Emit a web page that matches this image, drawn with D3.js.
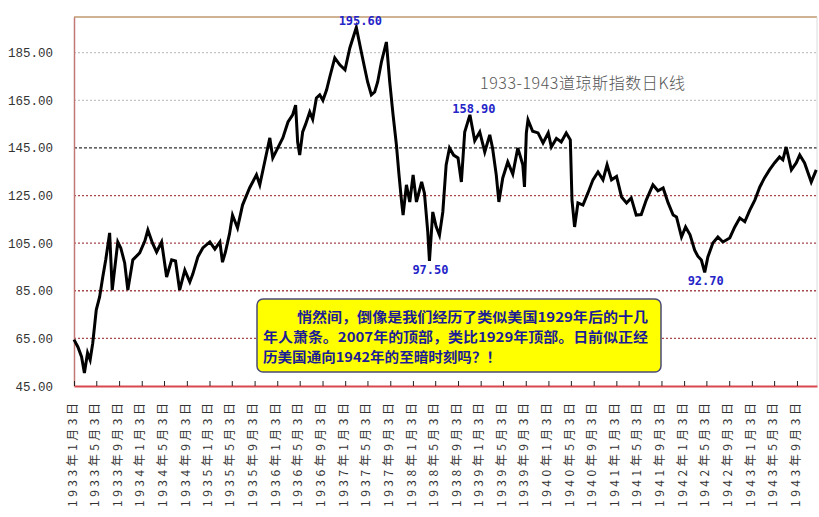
<!DOCTYPE html>
<html>
<head>
<meta charset="utf-8">
<script src="https://cdn.jsdelivr.net/npm/d3@7"></script>
<style>
  body { margin: 0; background: #fff; }
  svg { display: block; }
</style>
</head>
<body>
<svg id="svg_dow" width="819" height="517"></svg>
<script>
const dates = [
  '1933-01-03', '1933-01-24', '1933-02-13', '1933-02-28', '1933-03-17', '1933-03-31', '1933-04-14', '1933-05-03',
  '1933-05-21', '1933-06-07', '1933-06-23', '1933-07-14', '1933-07-28', '1933-08-27', '1933-09-12', '1933-10-03',
  '1933-10-20', '1933-11-16', '1933-12-23', '1934-01-20', '1934-02-05', '1934-03-02', '1934-03-24', '1934-04-20',
  '1934-05-17', '1934-06-13', '1934-07-04', '1934-07-26', '1934-08-23', '1934-09-19', '1934-10-05', '1934-11-01',
  '1934-11-28', '1935-01-05', '1935-02-01', '1935-02-28', '1935-03-14', '1935-03-30', '1935-04-21', '1935-05-07',
  '1935-06-03', '1935-06-30', '1935-08-07', '1935-09-13', '1935-10-01', '1935-10-27', '1935-11-24', '1935-12-10',
  '1936-01-06', '1936-02-02', '1936-03-01', '1936-03-26', '1936-04-11', '1936-04-22', '1936-05-03', '1936-05-19',
  '1936-06-04', '1936-06-26', '1936-07-12', '1936-08-01', '1936-08-19', '1936-09-05', '1936-09-25', '1936-10-12',
  '1936-11-08', '1936-12-05', '1937-01-02', '1937-01-28', '1937-03-04', '1937-03-31', '1937-04-18', '1937-05-04',
  '1937-05-24', '1937-06-11', '1937-06-27', '1937-07-17', '1937-08-13', '1937-08-31', '1937-09-18', '1937-10-06',
  '1937-10-20', '1937-11-03', '1937-11-11', '1937-11-29', '1937-12-17', '1938-01-04', '1938-01-22', '1938-02-19',
  '1938-03-06', '1938-03-24', '1938-04-02', '1938-04-20', '1938-05-08', '1938-05-26', '1938-06-13', '1938-07-01',
  '1938-07-19', '1938-08-10', '1938-09-03', '1938-09-21', '1938-10-09', '1938-11-06', '1938-12-02', '1938-12-29',
  '1939-01-25', '1939-02-21', '1939-03-08', '1939-03-28', '1939-04-11', '1939-05-02', '1939-05-29', '1939-06-25',
  '1939-07-22', '1939-08-18', '1939-08-27', '1939-09-06', '1939-09-15', '1939-10-10', '1939-11-08', '1939-12-05',
  '1940-01-02', '1940-01-19', '1940-02-15', '1940-03-12', '1940-04-08', '1940-04-30', '1940-05-09', '1940-05-23',
  '1940-06-10', '1940-07-07', '1940-08-03', '1940-08-30', '1940-09-26', '1940-10-23', '1940-11-14', '1940-12-08',
  '1941-01-04', '1941-01-31', '1941-02-27', '1941-03-24', '1941-04-20', '1941-05-17', '1941-06-13', '1941-07-19',
  '1941-08-15', '1941-09-12', '1941-10-09', '1941-11-05', '1941-11-23', '1941-12-20', '1942-01-11', '1942-02-04',
  '1942-03-01', '1942-03-18', '1942-04-06', '1942-04-24', '1942-05-11', '1942-06-07', '1942-07-04', '1942-07-31',
  '1942-09-06', '1942-10-03', '1942-10-30', '1942-11-26', '1942-12-23', '1943-01-19', '1943-02-15', '1943-03-12',
  '1943-04-08', '1943-05-05', '1943-06-01', '1943-06-19', '1943-07-07', '1943-08-04', '1943-08-30', '1943-09-18',
  '1943-10-14', '1943-11-19', '1943-12-16'
];

const closes = [
  64.5, 61.4, 57.2, 50.5, 58.9, 56, 63, 77,
  82.4, 90.8, 98, 109.3, 85.3, 105.5, 103, 96.7,
  85.3, 98, 100.9, 106, 110.5, 105, 101.3, 105.5,
  90.8, 98, 97.5, 85.3, 93.7, 88.7, 92, 99.2,
  103, 105.5, 102.5, 105.5, 97, 101.3, 109, 116.8,
  111.4, 121, 128.2, 133.7, 129.5, 139, 149.2, 140.8,
  145, 149.2, 155.9, 158.9, 163, 147.5, 142, 151.7,
  155, 160.1, 157, 166, 167.3, 165, 169.4, 174.8,
  182.8, 179.9, 177.8, 187, 195.6, 185.3, 178.6, 172.7,
  167.3, 168.5, 172.7, 181, 189.5, 172.7, 158.9, 146.3,
  133.7, 122.3, 116.8, 129.5, 122.3, 133.7, 122.3, 130.7,
  126, 109.7, 97.5, 118.1, 112, 108.4, 118.1, 137.9,
  145, 142, 140.8, 130.7, 151.7, 158.9, 148, 151.7,
  143.3, 150.5, 145, 133.7, 122.3, 132.4, 139.1, 134,
  145, 137.9, 128.6, 151.3, 156.8, 152, 151.3, 147.1,
  151.3, 145.4, 149, 147.5, 151.3, 148.4, 123.1, 111.8,
  121.9, 121, 126.1, 131.6, 134.9, 131.6, 137.9, 131.6,
  133, 124.4, 121.9, 124, 116.8, 117, 123.1, 129.5,
  127, 128.2, 121.9, 116.8, 116, 107.6, 111.8, 108.5,
  102.1, 99.5, 97.9, 92.7, 99.2, 105.1, 107.6, 105.5,
  107.2, 111.8, 115.6, 114, 118.9, 123.1, 128.6, 132.4,
  135.8, 138.7, 141.2, 140, 145.4, 135.8, 138.7, 142,
  138.7, 130.7, 135.8
];

const yTicks = [45, 65, 85, 105, 125, 145, 165, 185];

const xTickDates = [
  '1933-01-03', '1933-05-03', '1933-09-03', '1934-01-03', '1934-05-03', '1934-09-03',
  '1935-01-03', '1935-05-03', '1935-09-03', '1936-01-03', '1936-05-03', '1936-09-03',
  '1937-01-03', '1937-05-03', '1937-09-03', '1938-01-03', '1938-05-03', '1938-09-03',
  '1939-01-03', '1939-05-03', '1939-09-03', '1940-01-03', '1940-05-03', '1940-09-03',
  '1941-01-03', '1941-05-03', '1941-09-03', '1942-01-03', '1942-05-03', '1942-09-03',
  '1943-01-03', '1943-05-03', '1943-09-03'
];

const peakDates = ['1937-03-04', '1938-11-06'];
const troughDates = ['1938-04-02', '1942-04-24'];

const chartTitle = '1933-1943道琼斯指数日K线';
const noteLines = [
  '悄然间，倒像是我们经历了类似美国1929年后的十几',
  '年人萧条。2007年的顶部，类比1929年顶部。日前似正经',
  '历美国通向1942年的至暗时刻吗？！'
];

const parse = d3.timeParse('%Y-%m-%d');
const data = dates.map((d, i) => ({ date: parse(d), value: closes[i] }));

const plotLeft = 74;
const plotRight = 817;
const plotTop = 17;
const plotBottom = 386;

const xscale = d3.scaleTime()
  .domain([parse('1933-01-03'), parse('1943-12-20')])
  .range([plotLeft, plotRight]);

const yscale = d3.scaleLinear()
  .domain([45, 200])
  .range([plotBottom, plotTop]);

const svg = d3.select('#svg_dow');

// grid
const gridColor = (v) => (v >= 165 ? '#c4c4c4' : v === 145 ? '#333' : '#a8474a');
svg.append('g')
  .selectAll('line')
  .data(yTicks.filter((v) => v > 45))
  .enter()
  .append('line')
  .attr('x1', plotLeft)
  .attr('x2', plotRight)
  .attr('y1', (d) => yscale(d))
  .attr('y2', (d) => yscale(d))
  .attr('stroke', gridColor)
  .attr('stroke-width', 1.3)
  .attr('stroke-dasharray', (d) => (d === 145 ? '3,2' : '2,2'));

// frame
svg.append('line')
  .attr('x1', plotLeft).attr('x2', plotRight).attr('y1', plotTop).attr('y2', plotTop)
  .attr('stroke', '#c09a6e').attr('stroke-width', 1.5);
svg.append('line')
  .attr('x1', plotRight).attr('x2', plotRight).attr('y1', plotTop).attr('y2', plotBottom)
  .attr('stroke', '#dcdcdc').attr('stroke-width', 1);

const leftAxis = d3.axisLeft(yscale)
  .tickValues(yTicks)
  .tickFormat(d3.format('.2f'))
  .tickSize(0)
  .tickPadding(21);
const yAxis = svg.append('g')
  .attr('transform', `translate(${plotLeft}, 0)`)
  .call(leftAxis);
yAxis.select('.domain').attr('stroke', '#c27777').attr('stroke-width', 1.5);
yAxis.selectAll('text')
  .attr('font-family', 'Liberation Mono, monospace')
  .attr('font-size', 12.5)
  .attr('fill', '#333');

const fmt = d3.timeFormat('%Y年%-m月%-d日');
const bottomAxis = d3.axisBottom(xscale)
  .tickValues(xTickDates.map(parse))
  .tickFormat(fmt)
  .tickSize(-5)
  .tickSizeOuter(0);
const xAxis = svg.append('g')
  .attr('transform', `translate(0, ${plotBottom})`)
  .call(bottomAxis);
xAxis.select('.domain').attr('stroke', '#d9484f').attr('stroke-width', 2);
xAxis.selectAll('.tick line').attr('stroke', '#222').attr('stroke-width', 1);
xAxis.selectAll('.tick text')
  .attr('transform', 'rotate(-90)')
  .attr('text-anchor', 'end')
  .attr('x', -17)
  .attr('y', -2)
  .attr('dy', '0.35em')
  .attr('textLength', 104)
  .attr('lengthAdjust', 'spacing')
  .attr('font-family', 'Noto Sans CJK SC, sans-serif')
  .attr('font-size', 12)
  .attr('fill', '#333');

// index line
const line = d3.line()
  .x((d) => xscale(d.date))
  .y((d) => yscale(d.value));

svg.append('path')
  .datum(data)
  .attr('d', line)
  .attr('fill', 'none')
  .attr('stroke', '#000')
  .attr('stroke-width', 3)
  .attr('stroke-linejoin', 'miter');

// extreme labels
const lookup = (d) => data.find((p) => +p.date === +parse(d));
svg.append('g')
  .selectAll('text')
  .data(peakDates.map(lookup))
  .enter()
  .append('text')
  .text((d) => d.value.toFixed(2))
  .attr('x', (d) => xscale(d.date) + 4)
  .attr('y', (d) => yscale(d.value) - 2)
  .attr('text-anchor', 'middle')
  .attr('font-family', 'DejaVu Sans Mono, monospace')
  .attr('font-weight', 'bold')
  .attr('font-size', 12)
  .attr('fill', '#2424c8');

svg.append('g')
  .selectAll('text')
  .data(troughDates.map(lookup))
  .enter()
  .append('text')
  .text((d) => d.value.toFixed(2))
  .attr('x', (d) => xscale(d.date) + 1)
  .attr('y', (d) => yscale(d.value) + 13)
  .attr('text-anchor', 'middle')
  .attr('font-family', 'DejaVu Sans Mono, monospace')
  .attr('font-weight', 'bold')
  .attr('font-size', 12)
  .attr('fill', '#2424c8');

svg.append('text')
  .text(chartTitle)
  .attr('x', 480)
  .attr('y', 89)
  .attr('textLength', 205)
  .attr('font-family', 'Noto Sans CJK SC, sans-serif')
  .attr('font-weight', 300)
  .attr('font-size', 16)
  .attr('fill', '#555');

// note box
const note = svg.append('g');
note.append('rect')
  .attr('x', 257)
  .attr('y', 299)
  .attr('width', 404)
  .attr('height', 73)
  .attr('rx', 6)
  .attr('fill', '#ffff00')
  .attr('stroke', '#4a4a78')
  .attr('stroke-width', 1.5);

note.selectAll('text')
  .data(noteLines)
  .enter()
  .append('text')
  .text((d) => d)
  .attr('x', (d, i) => (i === 0 ? 297 : 263))
  .attr('y', (d, i) => 322 + i * 20)
  .attr('textLength', (d, i) => [351, 385, 238][i])
  .attr('lengthAdjust', 'spacingAndGlyphs')
  .attr('font-family', 'Noto Sans CJK SC, sans-serif')
  .attr('font-weight', 'bold')
  .attr('font-size', 13.5)
  .attr('fill', '#1c1c96');
</script>
</body>
</html>
